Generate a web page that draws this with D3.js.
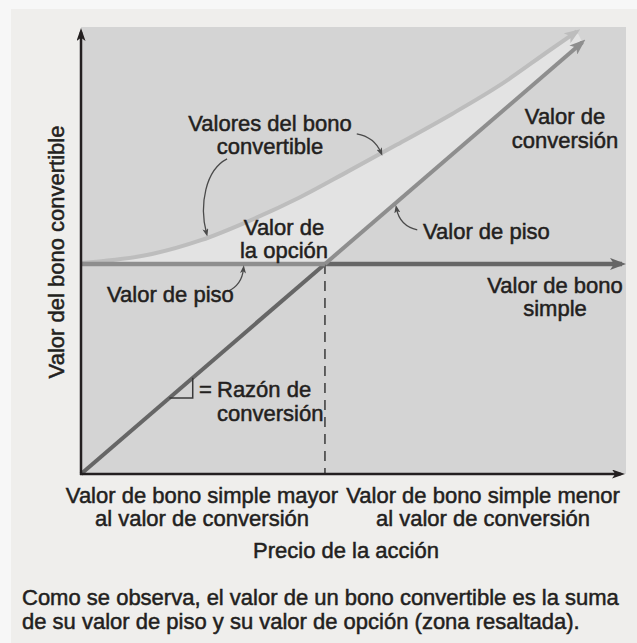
<!DOCTYPE html>
<html>
<head>
<meta charset="utf-8">
<script src="https://cdn.jsdelivr.net/npm/d3@7"></script>
<style>
  body { margin: 0; background: #f7f7f7; }
  text { font-family: "Liberation Sans", Arial, sans-serif; fill: #231f20; }
</style>
</head>
<body>
<div class="chart"></div>
<script>
// values (arbitrary units)
const straightBondValue = 4.7;
const conversionRatio = 1.05;
const conversionPrices = [0, 9.2];
const curvePrice = [0, 1.3, 2.2, 3.1, 4.0, 4.9, 5.8, 6.8, 7.7, 8.6, 9.1];
const curveValue = [4.72, 4.92, 5.23, 5.67, 6.18, 6.77, 7.37, 8.05, 8.71, 9.48, 9.9];
const axisMax = 10;

const width = 637, height = 643;

const svg = d3.select(".chart").append("svg")
    .attr("width", width)
    .attr("height", height);

const x = d3.scaleLinear().domain([0, axisMax]).range([81, 626]);
const y = d3.scaleLinear().domain([0, axisMax]).range([474, 27]);

const defs = svg.append("defs");
function marker(id, color, w, h) {
    defs.append("marker")
        .attr("id", id)
        .attr("markerUnits", "userSpaceOnUse")
        .attr("viewBox", `0 0 ${w} ${h}`)
        .attr("markerWidth", w)
        .attr("markerHeight", h)
        .attr("refX", w - 4)
        .attr("refY", h / 2)
        .attr("orient", "auto")
        .append("path")
        .attr("d", `M0,0L${w},${h / 2}L0,${h}L${w * 0.25},${h / 2}Z`)
        .attr("fill", color);
}
marker("arr-axis", "#231f20", 13, 9);
marker("arr-dark", "#666666", 16, 12);
marker("arr-mid", "#8e8e8e", 16, 12);
marker("arr-light", "#bdbdbd", 16, 12);
marker("arr-note", "#4a4a4a", 8, 6);

// backgrounds
svg.append("rect").attr("x", 11).attr("y", 9)
    .attr("width", width - 11).attr("height", height - 9)
    .attr("fill", "#efeeec");

svg.append("rect")
    .attr("x", x(0)).attr("y", y(axisMax))
    .attr("width", x(axisMax) - x(0))
    .attr("height", y(0) - y(axisMax))
    .attr("fill", "#d4d4d4");

const crossPrice = straightBondValue / conversionRatio;
const curvePts = curvePrice.map((p, i) => [p, curveValue[i]]);

const curveLine = d3.line()
    .x(d => x(d[0]))
    .y(d => y(d[1]))
    .curve(d3.curveMonotoneX);

// option value zone
svg.append("path")
    .attr("d", curveLine(curvePts)
        + `L${x(conversionPrices[1])},${y(conversionPrices[1] * conversionRatio)}`
        + `L${x(crossPrice)},${y(straightBondValue)}`
        + `L${x(0)},${y(straightBondValue)}Z`)
    .attr("fill", "#e3e3e3");

// dashed line at the crossing
svg.append("line")
    .attr("x1", x(crossPrice)).attr("x2", x(crossPrice))
    .attr("y1", y(straightBondValue)).attr("y2", y(0))
    .attr("stroke", "#3a3a3a")
    .attr("stroke-width", 1.5)
    .attr("stroke-dasharray", "10,7");

// straight bond value
svg.append("line")
    .attr("x1", x(crossPrice)).attr("x2", x(axisMax) - 4)
    .attr("y1", y(straightBondValue)).attr("y2", y(straightBondValue))
    .attr("stroke", "#666666").attr("stroke-width", 4.5)
    .attr("marker-end", "url(#arr-dark)");

// conversion value below the crossing
svg.append("line")
    .attr("x1", x(0)).attr("y1", y(0))
    .attr("x2", x(crossPrice)).attr("y2", y(straightBondValue))
    .attr("stroke", "#666666").attr("stroke-width", 4);

// convertible value curve
svg.append("path")
    .attr("d", curveLine(curvePts))
    .attr("fill", "none")
    .attr("stroke", "#bdbdbd").attr("stroke-width", 4)
    .attr("marker-end", "url(#arr-light)");

// floor: straight value left, conversion value right
svg.append("line")
    .attr("x1", x(0)).attr("x2", x(crossPrice))
    .attr("y1", y(straightBondValue)).attr("y2", y(straightBondValue))
    .attr("stroke", "#8e8e8e").attr("stroke-width", 4.5);

svg.append("line")
    .attr("x1", x(crossPrice)).attr("y1", y(straightBondValue))
    .attr("x2", x(conversionPrices[1])).attr("y2", y(conversionPrices[1] * conversionRatio))
    .attr("stroke", "#8e8e8e").attr("stroke-width", 4)
    .attr("marker-end", "url(#arr-mid)");

// slope triangle
const t0 = 1.62, t1 = 2.05;
svg.append("path")
    .attr("d", `M${x(t0)},${y(t0 * conversionRatio)}H${x(t1)}V${y(t1 * conversionRatio)}`)
    .attr("fill", "none")
    .attr("stroke", "#3a3a3a")
    .attr("stroke-width", 1.5);

// axes
svg.append("line")
    .attr("x1", x(0)).attr("x2", x(0))
    .attr("y1", y(0) + 1).attr("y2", y(axisMax) + 5)
    .attr("stroke", "#231f20").attr("stroke-width", 2.5)
    .attr("marker-end", "url(#arr-axis)");

svg.append("line")
    .attr("x1", x(0) - 1).attr("x2", x(axisMax) - 5)
    .attr("y1", y(0)).attr("y2", y(0))
    .attr("stroke", "#231f20").attr("stroke-width", 2.5)
    .attr("marker-end", "url(#arr-axis)");

// annotation arrows (data units)
const notes = [
    [[5.06, 7.61], [5.38, 7.54], [5.5, 7.2]],
    [[2.68, 7.05], [2.28, 6.8], [2.17, 6.02], [2.3, 5.4]],
    [[2.7, 4.09], [2.95, 4.23], [2.98, 4.58]],
    [[6.17, 5.46], [5.85, 5.55], [5.79, 5.93]]
];
notes.forEach(n => {
    const p = n.map(d => [x(d[0]), y(d[1])]);
    const d = p.length === 3
        ? `M${p[0]}Q${p[1]} ${p[2]}`
        : `M${p[0]}C${p[1]} ${p[2]} ${p[3]}`;
    svg.append("path")
        .attr("d", d)
        .attr("fill", "none")
        .attr("stroke", "#4a4a4a")
        .attr("stroke-width", 1.3)
        .attr("marker-end", "url(#arr-note)");
});

// labels
const fs = 22;
function label(lines, px, py, anchor, lh) {
    const t = svg.append("text")
        .attr("font-size", fs)
        .attr("text-anchor", anchor || "middle")
        .attr("stroke", "#231f20")
        .attr("stroke-width", 0.5);
    lines.forEach((s, i) => {
        t.append("tspan")
            .attr("x", px)
            .attr("y", py + i * (lh || 23))
            .text(s);
    });
    return t;
}

label(["Valores del bono", "convertible"], 270, 131);
label(["Valor de", "la opción"], 284, 235);
label(["Valor de piso"], 107, 302, "start");
label(["Valor de piso"], 423, 239, "start");
label(["Valor de", "conversión"], 565, 124, "middle", 24);
label(["Valor de bono", "simple"], 555, 293, "middle", 23);
label(["="], 199, 397, "start");
label(["Razón de", "conversión"], 217, 397, "start", 24);

svg.append("text")
    .attr("transform", "translate(64,252) rotate(-90)")
    .attr("text-anchor", "middle")
    .attr("font-size", fs)
    .attr("stroke", "#231f20")
    .attr("stroke-width", 0.5)
    .text("Valor del bono convertible");

label(["Valor de bono simple mayor", "al valor de conversión"], 202, 503);
label(["Valor de bono simple menor", "al valor de conversión"], 483, 503);
label(["Precio de la acción"], 346, 558);

label(["Como se observa, el valor de un bono convertible es la suma",
       "de su valor de piso y su valor de opción (zona resaltada)."], 22, 605, "start", 24);
</script>
</body>
</html>
